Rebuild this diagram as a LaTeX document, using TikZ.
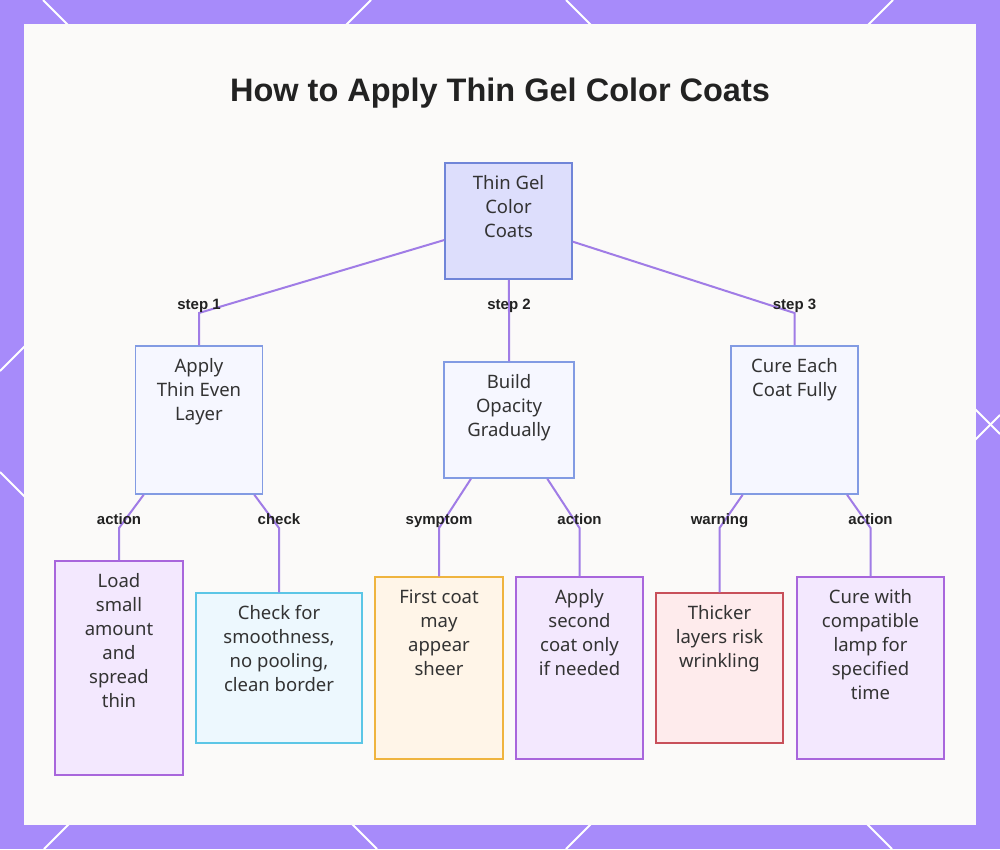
\documentclass[tikz,border=0pt]{standalone}
\usepackage{fontspec}
\setmainfont{Noto Sans}
\newfontfamily\titlefont{Liberation Sans}
\definecolor{bgpurple}{HTML}{A78BFA}
\definecolor{panel}{HTML}{FBFAF9}
\definecolor{edgecol}{HTML}{A07CE6}
\definecolor{txtgray}{HTML}{333333}
\definecolor{lblgray}{HTML}{222222}
\definecolor{rootfill}{HTML}{DDDEFC}
\definecolor{rootline}{HTML}{7085D8}
\definecolor{stepfill}{HTML}{F6F7FF}
\definecolor{stepline}{HTML}{829BE3}
\definecolor{actfill}{HTML}{F3E8FE}
\definecolor{actline}{HTML}{A866DC}
\definecolor{chkfill}{HTML}{EDF8FE}
\definecolor{chkline}{HTML}{5CC6E6}
\definecolor{symfill}{HTML}{FFF5E8}
\definecolor{symline}{HTML}{EFB43F}
\definecolor{warnfill}{HTML}{FEEBEC}
\definecolor{warnline}{HTML}{C8505A}
\usetikzlibrary{positioning}

\begin{document}
\begin{tikzpicture}[x=1pt,y=-1pt,
  box/.style={draw,line width=1.5pt,inner sep=0pt},
  rootbox/.style={box,draw=rootline,fill=rootfill},
  stepbox/.style={box,draw=stepline,fill=stepfill,minimum width=127pt},
  leafbox/.style={box,minimum width=127pt},
  txt/.style={anchor=north,inner sep=0pt,align=center,text=txtgray,
    font=\fontsize{18.5}{24}\selectfont},
  elbl/.style={anchor=base,inner sep=0pt,text=lblgray,
    font=\titlefont\fontsize{15}{18}\selectfont\bfseries},
  edge/.style={draw=edgecol,line width=2pt}]
  \useasboundingbox (0,0) rectangle (1000,849);
  \fill[bgpurple] (0,0) rectangle (1000,849);
  \draw[white,line width=2pt] (43,0) -- (892,849);
  \draw[white,line width=2pt] (566,0) -- (1000,434);
  \draw[white,line width=2pt] (0,472) -- (377,849);
  \draw[white,line width=2pt] (371,0) -- (0,371);
  \draw[white,line width=2pt] (893,0) -- (44,849);
  \draw[white,line width=2pt] (1000,415) -- (566,849);
  \fill[panel] (24,24) rectangle (976,825);

  \node[anchor=base,font=\titlefont\fontsize{32.5}{38}\selectfont\bfseries,text=lblgray] (title) at (500,101) {How to Apply Thin Gel Color Coats};

  \node[rootbox,minimum width=127pt,minimum height=116pt] (root) at (508.5,221) {};
  \node[stepbox,minimum height=148pt] (a1) at (199,420) {};
  \node[stepbox,minimum width=130pt,minimum height=116pt] (a2) at (509,420) {};
  \node[stepbox,minimum height=148pt] (a3) at (794.5,420) {};
  \node[leafbox,draw=actline,fill=actfill,minimum width=128pt,minimum height=214pt] (l1) at (119,668) {};
  \node[leafbox,draw=chkline,fill=chkfill,minimum width=166pt,minimum height=150pt] (l2) at (279,668) {};
  \node[leafbox,draw=symline,fill=symfill,minimum width=128pt,minimum height=182pt] (l3) at (439,668) {};
  \node[leafbox,draw=actline,fill=actfill,minimum height=182pt] (l4) at (579.5,668) {};
  \node[leafbox,draw=warnline,fill=warnfill,minimum height=150pt] (l5) at (719.5,668) {};
  \node[leafbox,draw=actline,fill=actfill,minimum width=147pt,minimum height=182pt] (l6) at (870.5,668) {};

  \node[txt] (roottxt) at ([yshift=-13pt]root.north) {Thin Gel\\Color\\Coats};
  \node[txt] (a1txt) at ([yshift=-13pt]a1.north) {Apply\\Thin Even\\Layer};
  \node[txt] (a2txt) at ([yshift=-13pt]a2.north) {Build\\Opacity\\Gradually};
  \node[txt] (a3txt) at ([yshift=-13pt]a3.north) {Cure Each\\Coat Fully};
  \node[txt] (l1txt) at ([yshift=-13pt]l1.north) {Load\\small\\amount\\and\\spread\\thin};
  \node[txt] (l2txt) at ([yshift=-13pt]l2.north) {Check for\\smoothness,\\no pooling,\\clean border};
  \node[txt] (l3txt) at ([yshift=-13pt]l3.north) {First coat\\may\\appear\\sheer};
  \node[txt] (l4txt) at ([yshift=-13pt]l4.north) {Apply\\second\\coat only\\if needed};
  \node[txt] (l5txt) at ([yshift=-13pt]l5.north) {Thicker\\layers risk\\wrinkling};
  \node[txt] (l6txt) at ([yshift=-13pt]l6.north) {Cure with\\compatible\\lamp for\\specified\\time};

  \coordinate (b1) at (a1 |- 0,313);
  \coordinate (b2) at (a2 |- 0,313);
  \coordinate (b3) at (a3 |- 0,313);
  \coordinate (c1) at (l1 |- 0,528);
  \coordinate (c2) at (l2 |- 0,528);
  \coordinate (c3) at (l3 |- 0,528);
  \coordinate (c4) at (l4 |- 0,528);
  \coordinate (c5) at (l5 |- 0,528);
  \coordinate (c6) at (l6 |- 0,528);

  \draw[edge] (root) -- (b1) -- (a1);
  \draw[edge] (root) -- (b2) -- (a2);
  \draw[edge] (root) -- (b3) -- (a3);
  \draw[edge] (a1) -- (c1) -- (l1);
  \draw[edge] (a1) -- (c2) -- (l2);
  \draw[edge] (a2) -- (c3) -- (l3);
  \draw[edge] (a2) -- (c4) -- (l4);
  \draw[edge] (a3) -- (c5) -- (l5);
  \draw[edge] (a3) -- (c6) -- (l6);

  \node[elbl] (s1) at ([yshift=4pt]b1) {step 1};
  \node[elbl] (s2) at ([yshift=4pt]b2) {step 2};
  \node[elbl] (s3) at ([yshift=4pt]b3) {step 3};
  \node[elbl] (e1) at ([yshift=4pt]c1) {action};
  \node[elbl] (e2) at ([yshift=4pt]c2) {check};
  \node[elbl] (e3) at ([yshift=4pt]c3) {symptom};
  \node[elbl] (e4) at ([yshift=4pt]c4) {action};
  \node[elbl] (e5) at ([yshift=4pt]c5) {warning};
  \node[elbl] (e6) at ([yshift=4pt]c6) {action};
\end{tikzpicture}
\end{document}
